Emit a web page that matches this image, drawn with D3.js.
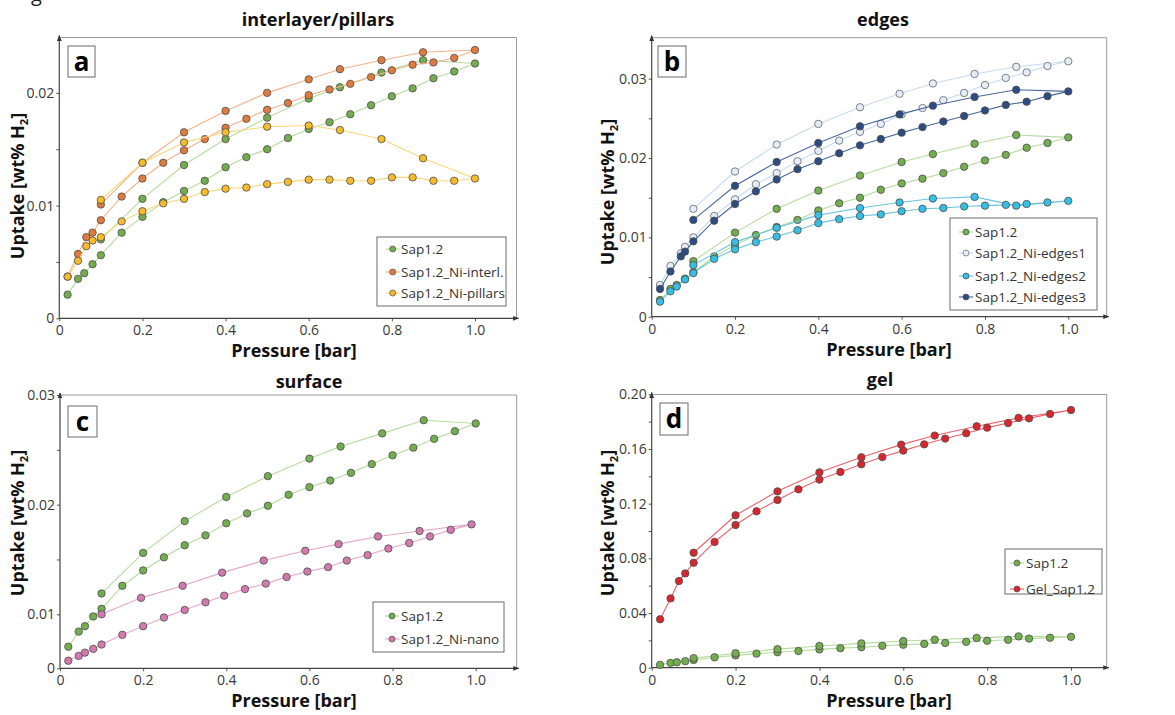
<!DOCTYPE html>
<html>
<head>
<meta charset="utf-8">
<script src="https://cdn.jsdelivr.net/npm/d3@7"></script>
<style>
  body { margin: 0; background: #fff; }
  text { font-family: "Open Sans", sans-serif; }
</style>
</head>
<body>
<svg width="1175" height="715"></svg>
<script>
// pressures / uptakes, adsorption branch then desorption branch
var sapP = [0.02, 0.045, 0.06, 0.08, 0.1, 0.15, 0.2, 0.25, 0.3, 0.35, 0.4, 0.45, 0.5, 0.55, 0.6, 0.65, 0.7, 0.75, 0.8, 0.85, 0.9, 0.95, 1.0,
            0.875, 0.775, 0.675, 0.6, 0.5, 0.4, 0.3, 0.2, 0.1];
var sapU = [0.0021, 0.0035, 0.0040, 0.0048, 0.0056, 0.0076, 0.0090, 0.0103, 0.0113, 0.0122, 0.0134, 0.0143, 0.0150, 0.0160, 0.0168, 0.0174, 0.0181, 0.0189, 0.0197, 0.0204, 0.0213, 0.0219, 0.0226,
            0.0229, 0.0218, 0.0205, 0.0195, 0.0178, 0.0159, 0.0136, 0.0106, 0.0070];

var interlP = [0.02, 0.045, 0.065, 0.08, 0.1, 0.15, 0.2, 0.25, 0.3, 0.35, 0.4, 0.45, 0.5, 0.55, 0.6, 0.65, 0.7, 0.75, 0.8, 0.85, 0.9, 0.95, 1.0,
               0.875, 0.775, 0.675, 0.6, 0.5, 0.4, 0.3, 0.2, 0.1];
var interlU = [0.0037, 0.0057, 0.0072, 0.0076, 0.0087, 0.0108, 0.0124, 0.0138, 0.0149, 0.0159, 0.0169, 0.0177, 0.0185, 0.0191, 0.0198, 0.0203, 0.0208, 0.0214, 0.0220, 0.0225, 0.0227, 0.0231, 0.0238,
               0.0236, 0.0229, 0.0221, 0.0212, 0.0200, 0.0184, 0.0165, 0.0138, 0.0101];
var pillarsU = [0.0037, 0.0051, 0.0064, 0.0069, 0.0072, 0.0086, 0.0095, 0.0102, 0.0106, 0.0112, 0.0115, 0.0116, 0.0119, 0.0121, 0.0123, 0.0123, 0.0122, 0.0122, 0.0125, 0.0125, 0.0122, 0.0122, 0.0124,
                0.0142, 0.0159, 0.0167, 0.0171, 0.0170, 0.0165, 0.0156, 0.0138, 0.0105];

var edgeP = [0.02, 0.045, 0.07, 0.08, 0.1, 0.15, 0.2, 0.25, 0.3, 0.35, 0.4, 0.45, 0.5, 0.55, 0.6, 0.65, 0.7, 0.75, 0.8, 0.85, 0.9, 0.95, 1.0,
             0.875, 0.775, 0.675, 0.595, 0.5, 0.4, 0.3, 0.2, 0.1];
var edge2P = [0.02, 0.045, 0.06, 0.08, 0.1, 0.15, 0.2, 0.25, 0.3, 0.35, 0.4, 0.45, 0.5, 0.55, 0.6, 0.65, 0.7, 0.75, 0.8, 0.85, 0.9, 0.95, 1.0,
              0.875, 0.775, 0.675, 0.595, 0.5, 0.4, 0.3, 0.2, 0.1];
var edges1U = [0.0040, 0.0064, 0.0080, 0.0088, 0.0100, 0.0127, 0.0148, 0.0167, 0.0181, 0.0196, 0.0209, 0.0222, 0.0233, 0.0243, 0.0255, 0.0263, 0.0273, 0.0282, 0.0292, 0.0301, 0.0308, 0.0316, 0.0322,
               0.0315, 0.0306, 0.0294, 0.0281, 0.0264, 0.0243, 0.0217, 0.0183, 0.0136];
var edges2U = [0.0019, 0.0032, 0.0038, 0.0047, 0.0055, 0.0073, 0.0085, 0.0094, 0.0101, 0.0109, 0.0118, 0.0123, 0.0127, 0.0129, 0.0133, 0.0136, 0.0137, 0.0139, 0.0140, 0.0141, 0.0142, 0.0144, 0.0146,
               0.0140, 0.0151, 0.0149, 0.0144, 0.0137, 0.0128, 0.0112, 0.0094, 0.0065];
var edges3U = [0.0035, 0.0057, 0.0076, 0.0082, 0.0095, 0.0121, 0.0142, 0.0158, 0.0173, 0.0186, 0.0196, 0.0206, 0.0216, 0.0224, 0.0232, 0.0239, 0.0246, 0.0253, 0.0260, 0.0267, 0.0271, 0.0278, 0.0284,
               0.0286, 0.0277, 0.0266, 0.0255, 0.0240, 0.0219, 0.0195, 0.0165, 0.0122];

var surfSapU = [0.0040, 0.0068, 0.0078, 0.0096, 0.0105, 0.0126, 0.0140, 0.0152, 0.0163, 0.0172, 0.0183, 0.0192, 0.0199, 0.0209, 0.0216, 0.0222, 0.0229, 0.0237, 0.0245, 0.0252, 0.0260, 0.0267, 0.0274,
                0.0277, 0.0265, 0.0253, 0.0242, 0.0226, 0.0207, 0.0185, 0.0156, 0.0119];
var nanoP = [0.02, 0.045, 0.06, 0.08, 0.1, 0.15, 0.2, 0.25, 0.3, 0.35, 0.395, 0.445, 0.495, 0.545, 0.595, 0.645, 0.69, 0.74, 0.79, 0.84, 0.89, 0.94, 0.99,
             0.865, 0.765, 0.67, 0.59, 0.49, 0.39, 0.295, 0.195, 0.1];
var nanoU = [0.0014, 0.0023, 0.0029, 0.0036, 0.0044, 0.0062, 0.0078, 0.0094, 0.0104, 0.0111, 0.0117, 0.0123, 0.0128, 0.0134, 0.0139, 0.0143, 0.0149, 0.0154, 0.0160, 0.0165, 0.0171, 0.0177, 0.0182,
             0.0176, 0.0171, 0.0164, 0.0158, 0.0149, 0.0138, 0.0126, 0.0115, 0.0100];

var gelP = [0.02, 0.045, 0.065, 0.08, 0.1, 0.15, 0.2, 0.25, 0.3, 0.35, 0.4, 0.45, 0.5, 0.55, 0.6, 0.65, 0.7, 0.75, 0.8, 0.85, 0.9, 0.95, 1.0,
            0.875, 0.775, 0.675, 0.595, 0.5, 0.4, 0.3, 0.2, 0.1];
var gelU = [0.0354, 0.0507, 0.0634, 0.0690, 0.0768, 0.0920, 0.1044, 0.1144, 0.1227, 0.1305, 0.1376, 0.1432, 0.1488, 0.1541, 0.1588, 0.1634, 0.1676, 0.1715, 0.1756, 0.1790, 0.1824, 0.1856, 0.1885,
            0.1827, 0.1766, 0.1698, 0.1632, 0.1539, 0.1429, 0.1290, 0.1115, 0.0841];

var xTicks = [0, 0.2, 0.4, 0.6, 0.8, 1.0];

function ser(name, p, u, fill, line, stroke) {
  return {name: name, pts: p.map(function(d, i) { return [d, u[i]]; }), fill: fill, line: line, stroke: stroke || "#4d4d4d"};
}
var cSap = ["#74ad4f", "#b5dc9d"];

var panels = [
  {letter: "a", title: "interlayer/pillars", tx: 318, ty: 26,
   x0: 59.3, x1: 475, right: 516.5, yDom: [0, 0.025], yRng: [318.3, 36.5], top: 37.5,
   yTicks: [0, 0.01, 0.02], yMinor: [0.005, 0.015],
   box: [68, 46, 27, 31], leg: {x: 377, y: 237, w: 129, h: 69, mx: 392.7, tx: 401, rows: [249, 272, 293]},
   ylab: [24, 186], xlab: [294, 357],
   series: [ser("Sap1.2", sapP, sapU, cSap[0], cSap[1]),
            ser("Sap1.2_Ni-interl.", interlP, interlU, "#e07b3f", "#f3b389"),
            ser("Sap1.2_Ni-pillars", interlP, pillarsU, "#f6bb2c", "#fbd679")]},
  {letter: "b", title: "edges", tx: 883, ty: 26,
   x0: 651.7, x1: 1068.3, right: 1106.7, yDom: [0, 0.03], yRng: [316.7, 78.7], top: 37.7,
   yTicks: [0, 0.01, 0.02, 0.03], yMinor: [0.005, 0.015, 0.025],
   box: [658, 46, 28, 31], leg: {x: 950, y: 218, w: 147, h: 92, mx: 966, tx: 975, rows: [232, 253, 276, 297]},
   ylab: [614, 192], xlab: [889, 356],
   series: [ser("Sap1.2", sapP, sapU, cSap[0], cSap[1]),
            ser("Sap1.2_Ni-edges1", edgeP, edges1U, "#e6ecf5", "#c7dbf0", "#5d6675"),
            ser("Sap1.2_Ni-edges2", edge2P, edges2U, "#36bfe2", "#6cc3e2"),
            ser("Sap1.2_Ni-edges3", edgeP, edges3U, "#2c4c82", "#4a6a9e")]},
  {letter: "c", title: "surface", tx: 309, ty: 388,
   x0: 60, x1: 475.7, right: 516.7, yDom: [0, 0.01, 0.03], yRng: [668.3, 614.3, 395], top: 395,
   yTicks: [0, 0.01, 0.02, 0.03], yMinor: [0.015, 0.025],
   box: [68, 406, 29, 31], leg: {x: 373, y: 602, w: 131, h: 50, mx: 392, tx: 401, rows: [616, 639]},
   ylab: [24, 523], xlab: [294, 707],
   series: [ser("Sap1.2", sapP, surfSapU, cSap[0], cSap[1]),
            ser("Sap1.2_Ni-nano", nanoP, nanoU, "#d27aad", "#e7a6cd")]},
  {letter: "d", title: "gel", tx: 880, ty: 386,
   x0: 651.7, x1: 1071, right: 1106.7, yDom: [0, 0.2], yRng: [667.7, 394.3], top: 394.5,
   yTicks: [0, 0.04, 0.08, 0.12, 0.16, 0.2], yMinor: [0.02, 0.06, 0.1, 0.14, 0.18],
   box: [660, 403, 28, 32], leg: {x: 1005, y: 549, w: 97, h: 45, mx: 1017, tx: 1026, rows: [563, 589]},
   ylab: [614, 523], xlab: [889, 707],
   series: [ser("Sap1.2", sapP, sapU, cSap[0], cSap[1]),
            ser("Gel_Sap1.2", gelP, gelU, "#d8262e", "#e8636a")]}
];

var svg = d3.select("svg");
svg.append("rect").attr("width", 1175).attr("height", 715).attr("fill", "#fff");

svg.append("defs").append("marker")
    .attr("id", "arr").attr("viewBox", "0 0 10 10").attr("refX", 9).attr("refY", 5)
    .attr("markerWidth", 5).attr("markerHeight", 5).attr("orient", "auto")
  .append("path").attr("d", "M0,1L10,5L0,9Z").attr("fill", "#333");

// bit of the figure caption cut off at the top
svg.append("text").attr("x", 31).attr("y", 1).attr("font-size", 20).attr("fill", "#222").text("g");

var fmtY = function(d) { return d === 0 ? "0" : d3.format(".2f")(d); };
var fmtX = function(d) { return d === 0 ? "0" : d3.format(".1f")(d); };

panels.forEach(function(p) {
  var x = d3.scaleLinear().domain([0, 1]).range([p.x0, p.x1]);
  var y = d3.scaleLinear().domain(p.yDom).range(p.yRng);
  var bottom = p.yRng[0];
  var g = svg.append("g");

  // frame
  g.append("path")
      .attr("d", "M" + p.x0 + "," + p.top + "H" + p.right + "V" + bottom)
      .attr("fill", "none").attr("stroke", "#9a9a9a").attr("stroke-width", 1);

  // axes
  var ya = g.append("g").attr("transform", "translate(" + p.x0 + ",0)")
      .call(d3.axisLeft(y).tickValues(p.yTicks).tickFormat(fmtY).tickSize(3).tickSizeOuter(0));
  var ym = g.append("g").attr("transform", "translate(" + p.x0 + ",0)")
      .call(d3.axisLeft(y).tickValues(p.yMinor).tickFormat("").tickSize(3).tickSizeOuter(0));
  var xa = g.append("g").attr("transform", "translate(0," + bottom + ")")
      .call(d3.axisBottom(x).tickValues(xTicks).tickFormat(fmtX).tickSize(3).tickSizeOuter(0));
  [ya, ym, xa].forEach(function(a) {
    a.select(".domain").remove();
    a.selectAll("line").attr("stroke", "#555");
    a.selectAll("text").attr("fill", "#3a3a3a").style("font-size", "14px").style("font-family", "Open Sans");
  });
  ya.selectAll("text").attr("x", -5);
  xa.selectAll("text").attr("y", 7);

  g.append("line").attr("x1", p.x0).attr("x2", p.x0).attr("y1", bottom).attr("y2", p.top - 2)
      .attr("stroke", "#444").attr("stroke-width", 1.2).attr("marker-end", "url(#arr)");
  g.append("line").attr("x1", p.x0).attr("x2", p.right + 2).attr("y1", bottom).attr("y2", bottom)
      .attr("stroke", "#444").attr("stroke-width", 1.2).attr("marker-end", "url(#arr)");

  // titles and labels
  g.append("text").attr("x", p.tx).attr("y", p.ty).attr("text-anchor", "middle")
      .attr("font-size", 18).attr("font-weight", "bold").attr("fill", "#111").text(p.title);
  g.append("text").attr("x", p.xlab[0]).attr("y", p.xlab[1]).attr("text-anchor", "middle")
      .attr("font-size", 18).attr("font-weight", "bold").attr("fill", "#111").text("Pressure [bar]");
  var yl = g.append("text")
      .attr("transform", "translate(" + p.ylab[0] + "," + p.ylab[1] + ") rotate(-90)")
      .attr("text-anchor", "middle").attr("font-size", 18).attr("font-weight", "bold").attr("fill", "#111");
  yl.append("tspan").text("Uptake [wt% H");
  yl.append("tspan").attr("dy", 4).attr("font-size", 11).text("2");
  yl.append("tspan").attr("dy", -4).text("]");

  // panel letter
  g.append("rect").attr("x", p.box[0]).attr("y", p.box[1]).attr("width", p.box[2]).attr("height", p.box[3])
      .attr("fill", "#fff").attr("stroke", "#6a6a6a").attr("stroke-width", 1);
  g.append("text").attr("x", p.box[0] + p.box[2] / 2).attr("y", p.box[1] + p.box[3] / 2 + 9)
      .attr("text-anchor", "middle").attr("font-size", 26).attr("font-weight", "bold").attr("fill", "#000")
      .text(p.letter);

  // series
  var line = d3.line().x(function(d) { return x(d[0]); }).y(function(d) { return y(d[1]); });
  p.series.forEach(function(s) {
    g.append("path").attr("d", line(s.pts)).attr("fill", "none")
        .attr("stroke", s.line).attr("stroke-width", 1.1);
    g.append("g").selectAll("circle").data(s.pts).enter().append("circle")
        .attr("cx", function(d) { return x(d[0]); })
        .attr("cy", function(d) { return y(d[1]); })
        .attr("r", 3.7)
        .attr("fill", s.fill).attr("stroke", s.stroke).attr("stroke-width", 0.8);
  });

  // legend
  var L = p.leg;
  var lg = g.append("g");
  lg.append("rect").attr("x", L.x).attr("y", L.y).attr("width", L.w).attr("height", L.h)
      .attr("fill", "#fff").attr("stroke", "#6a6a6a").attr("stroke-width", 1);
  p.series.forEach(function(s, i) {
    var ry = L.rows[i];
    lg.append("line").attr("x1", L.mx - 7).attr("x2", L.mx + 7).attr("y1", ry).attr("y2", ry)
        .attr("stroke", s.line).attr("stroke-width", 1.2);
    lg.append("circle").attr("cx", L.mx).attr("cy", ry).attr("r", 3)
        .attr("fill", s.fill).attr("stroke", s.stroke).attr("stroke-width", 0.7);
    lg.append("text").attr("x", L.tx).attr("y", ry).attr("dy", "0.35em")
        .attr("font-size", 13.5).attr("fill", "#333").text(s.name);
  });
});
</script>
</body>
</html>
